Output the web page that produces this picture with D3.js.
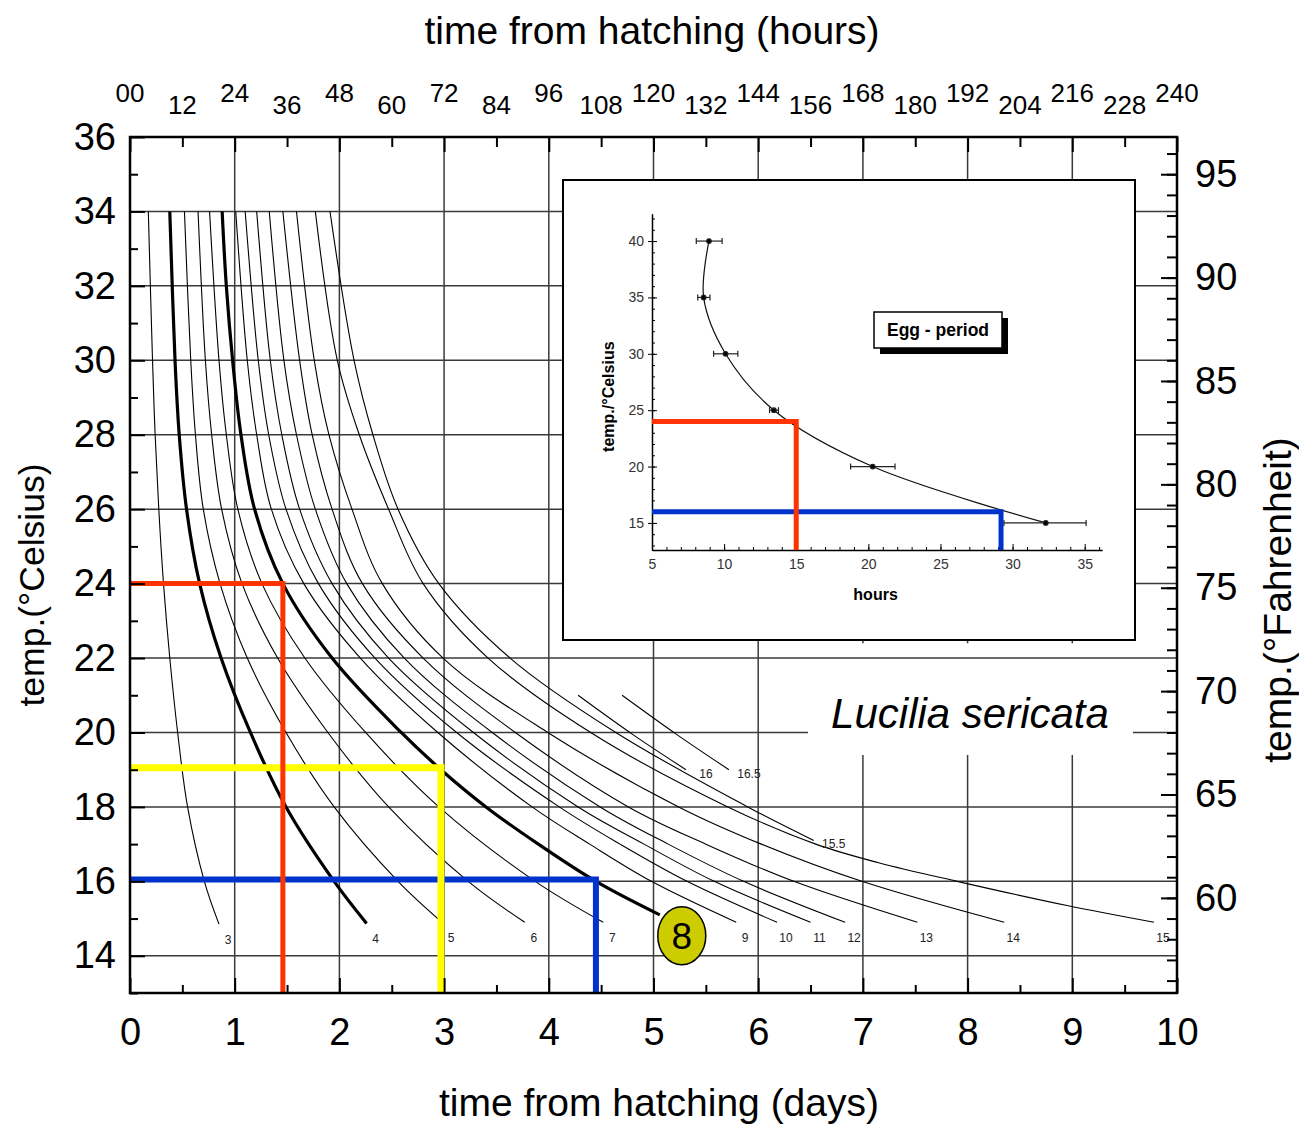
<!DOCTYPE html>
<html>
<head>
<meta charset="utf-8">
<script src="https://cdn.jsdelivr.net/npm/d3@7/dist/d3.min.js"></script>
<style>
body { margin: 0; background: #fff; }
svg text { font-family: "Liberation Sans", Arial, Helvetica, sans-serif; }
</style>
</head>
<body>
<div id="graph"></div>
<script>
// ---- axes / tick labels ----
var dayTicks = [0, 1, 2, 3, 4, 5, 6, 7, 8, 9, 10];
var hourTicks = [0, 12, 24, 36, 48, 60, 72, 84, 96, 108, 120, 132, 144, 156, 168, 180, 192, 204, 216, 228, 240];
var hourLabels = ["00", "12", "24", "36", "48", "60", "72", "84", "96", "108", "120", "132", "144", "156", "168", "180", "192", "204", "216", "228", "240"];
var celsiusTicks = [14, 16, 18, 20, 22, 24, 26, 28, 30, 32, 34, 36];
var fahrenheitTicks = [60, 65, 70, 75, 80, 85, 90, 95];

// ---- isomorphen curves: [days, temp °C] ----
var curve3 = [[0.175, 34], [0.215, 30], [0.24, 28], [0.275, 26], [0.32, 24], [0.38, 22], [0.455, 20], [0.55, 18], [0.71, 16], [0.85, 14.85]];
var curve4 = [[0.38, 34], [0.43, 30], [0.47, 28], [0.54, 26], [0.665, 24], [0.87, 22], [1.15, 20], [1.49, 18], [1.95, 16], [2.26, 14.87]];
var curve5 = [[0.52, 34], [0.58, 30], [0.625, 28], [0.70, 26], [0.86, 24], [1.12, 22], [1.49, 20], [1.95, 18], [2.56, 16], [2.98, 14.9]];
var curve6 = [[0.65, 34], [0.72, 30], [0.78, 28], [0.875, 26], [1.07, 24], [1.41, 22], [1.89, 20], [2.47, 18], [3.23, 16], [3.77, 14.9]];
var curve7 = [[0.76, 34], [0.85, 30], [0.92, 28], [1.03, 26], [1.26, 24], [1.67, 22], [2.25, 20], [2.95, 18], [3.87, 16], [4.52, 14.9]];
var curve8 = [[0.88, 34], [0.92, 32], [0.98, 30], [1.06, 28], [1.19, 26], [1.46, 24], [1.93, 22], [2.59, 20], [2.97, 19], [3.40, 18], [3.90, 17], [4.45, 16], [5.06, 15.1]];
var curve9 = [[1.01, 34], [1.12, 30], [1.21, 28], [1.35, 26], [1.66, 24], [2.20, 22], [2.94, 20], [3.84, 18], [4.39, 17], [4.98, 16], [5.79, 14.9]];
var curve10 = [[1.10, 34], [1.225, 30], [1.325, 28], [1.49, 26], [1.80, 24], [2.34, 22], [3.12, 20], [4.10, 18], [4.68, 17], [5.32, 16], [6.18, 14.9]];
var curve11 = [[1.21, 34], [1.34, 30], [1.45, 28], [1.62, 26], [1.93, 24], [2.47, 22], [3.28, 20], [4.28, 18], [4.91, 17], [5.58, 16], [6.50, 14.9]];
var curve12 = [[1.33, 34], [1.47, 30], [1.59, 28], [1.77, 26], [2.07, 24], [2.62, 22], [3.46, 20], [4.49, 18], [5.14, 17], [5.86, 16], [6.83, 14.9]];
var curve13 = [[1.46, 34], [1.62, 30], [1.74, 28], [1.93, 26], [2.22, 24], [2.80, 22], [3.68, 20], [4.76, 18], [5.50, 17], [6.34, 16], [7.52, 14.9]];
var curve14 = [[1.59, 34], [1.76, 30], [1.90, 28], [2.12, 26], [2.41, 24], [2.99, 22], [3.99, 20], [5.24, 18], [6.03, 17], [6.99, 16], [8.35, 14.9]];
var curve15 = [[1.77, 34], [1.98, 30], [2.19, 28], [2.47, 26], [2.80, 24], [3.42, 22], [4.40, 20], [5.71, 18], [6.55, 17], [7.15, 16.5], [7.90, 16], [8.95, 15.35], [9.78, 14.9]];
var curve155 = [[1.91, 34], [2.14, 30], [2.32, 28], [2.56, 26], [2.95, 24], [3.63, 22], [4.64, 20], [5.90, 18], [6.53, 17.1]];
var curve16 = [[4.28, 21.0], [4.80, 19.95], [5.31, 19.0]];
var curve165 = [[4.70, 21.0], [5.22, 19.95], [5.72, 19.0]];

var curveNames = ["3", "4", "5", "6", "7", "8", "9", "10", "11", "12", "13", "14", "15", "15.5", "16", "16.5"];
var curveData = [curve3, curve4, curve5, curve6, curve7, curve8, curve9, curve10, curve11, curve12, curve13, curve14, curve15, curve155, curve16, curve165];
var boldCurves = ["4", "8"];

// reading lines on the main chart (blue, yellow, red)
var markDays = [4.45, 2.97, 1.46];
var markTemps = [16.05, 19.05, 24];

// ---- inset: egg period ----
var eggTemps = [40, 35, 30, 25, 20, 15];
var eggHours = [8.95, 8.58, 10.1, 13.45, 20.3, 32.3];
var eggLow = [8.07, 8.17, 9.27, 13.15, 18.77, 29.4];
var eggHigh = [9.86, 9.02, 10.95, 13.77, 21.85, 35.1];
var insetHourTicks = [5, 10, 15, 20, 25, 30, 35];
var insetTempTicks = [15, 20, 25, 30, 35, 40];
// reading lines on the inset (blue, red)
var insetMarkHours = [29.2, 15];
var insetMarkTemps = [16, 24];

var markColors = ["#0033cc", "#ffff00", "#ff3300"];
var markWidths = [6, 7, 5];
var insetMarkColors = ["#0033cc", "#ff3300"];

var font = '"Liberation Sans", Arial, sans-serif';

var svg = d3.select("div#graph")
    .append("svg")
    .attr("width", 1299)
    .attr("height", 1126);

var x = d3.scaleLinear().domain([0, 10]).range([130, 1177]);
var xh = d3.scaleLinear().domain([0, 240]).range([130, 1177]);
var y = d3.scaleLinear().domain([13, 36]).range([993, 137]);
var yf = d3.scaleLinear().domain([13 * 1.8 + 32, 36 * 1.8 + 32]).range([993, 137]);

// grid
var grid = svg.append("g").attr("stroke", "#3a3a3a").attr("stroke-width", 1.5);
grid.selectAll("line.hgrid")
    .data(celsiusTicks.filter(function(d) {return d < 36}))
    .enter().append("line")
    .attr("class", "hgrid")
    .attr("x1", x(0)).attr("x2", x(10))
    .attr("y1", function(d) {return y(d)})
    .attr("y2", function(d) {return y(d)});

var vgrid = [];
dayTicks.forEach(function(d) {
    if (d == 0 || d == 10) return;
    if (d >= 7) {
	vgrid.push([d, 36, 22.4]);
	vgrid.push([d, 19.55, 13]);
    } else {
	vgrid.push([d, 36, 13]);
    }
});
grid.selectAll("line.vgrid")
    .data(vgrid)
    .enter().append("line")
    .attr("class", "vgrid")
    .attr("x1", function(d) {return x(d[0])})
    .attr("x2", function(d) {return x(d[0])})
    .attr("y1", function(d) {return y(d[1])})
    .attr("y2", function(d) {return y(d[2])});

// isomorphen curves
var line = d3.line()
    .x(function(d) {return x(d[0])})
    .y(function(d) {return y(d[1])})
    .curve(d3.curveCatmullRom.alpha(0.5));

svg.append("g")
    .attr("fill", "none")
    .attr("stroke", "#000")
    .selectAll("path")
    .data(curveData)
    .enter().append("path")
    .attr("d", function(d) {return line(d)})
    .attr("stroke-width", function(d, i) {return boldCurves.indexOf(curveNames[i]) >= 0 ? 3.2 : 1.1});

// curve labels
var labels = svg.append("g").attr("font-size", 12).attr("fill", "#222").attr("text-anchor", "middle");
curveData.forEach(function(pts, i) {
    var name = curveNames[i];
    var end = pts[pts.length - 1];
    var ex = x(end[0]), ey = y(end[1]);
    if (name == "8") {
	labels.append("ellipse")
	    .attr("cx", ex + 22).attr("cy", ey + 21)
	    .attr("rx", 24).attr("ry", 29)
	    .attr("fill", "#cccc00").attr("stroke", "#000").attr("stroke-width", 1.5);
	labels.append("text")
	    .attr("x", ex + 22).attr("y", ey + 34)
	    .attr("font-size", 37).attr("fill", "#000")
	    .text(name);
    } else if (end[1] > 16.5) {
	labels.append("text").attr("x", ex + 20).attr("y", ey + 8).text(name);
    } else {
	labels.append("text").attr("x", ex + 9).attr("y", ey + 20).text(name);
    }
});

// inset
var ix = d3.scaleLinear().domain([5, 36.2]).range([652, 1102]);
var iy = d3.scaleLinear().domain([12.6, 42.4]).range([550, 214]);
var inset = svg.append("g");
inset.append("rect")
    .attr("x", 563).attr("y", 180).attr("width", 572).attr("height", 460)
    .attr("fill", "#fff").attr("stroke", "#000").attr("stroke-width", 2);

inset.append("g")
    .attr("transform", "translate(0," + iy(12.6) + ")")
    .call(d3.axisBottom(ix).tickValues(d3.range(6, 37)).tickSize(-3).tickSizeOuter(0).tickFormat(""));
inset.append("g")
    .attr("transform", "translate(0," + iy(12.6) + ")")
    .call(d3.axisBottom(ix).tickValues(insetHourTicks).tickSize(-6).tickSizeOuter(0).tickPadding(9))
    .call(function(g) {
	g.selectAll("text").attr("font-size", 14).attr("fill", "#333").attr("font-family", font);
	g.select(".domain").attr("stroke-width", 1.5);
    });
inset.append("g")
    .attr("transform", "translate(" + ix(5) + ",0)")
    .call(d3.axisLeft(iy).tickValues(d3.range(13, 43)).tickSize(-3).tickSizeOuter(0).tickFormat(""));
inset.append("g")
    .attr("transform", "translate(" + ix(5) + ",0)")
    .call(d3.axisLeft(iy).tickValues(insetTempTicks).tickSize(-5).tickSizeOuter(0).tickFormat(""));
inset.append("g")
    .attr("transform", "translate(" + ix(5) + ",0)")
    .call(d3.axisLeft(iy).tickValues(insetTempTicks).tickSize(4).tickSizeOuter(0).tickPadding(4))
    .call(function(g) {
	g.selectAll("text").attr("font-size", 14).attr("fill", "#333").attr("font-family", font);
	g.select(".domain").attr("stroke-width", 1.5);
    });

inset.append("text")
    .attr("x", ix(20.5)).attr("y", 600)
    .attr("text-anchor", "middle").attr("font-size", 16).attr("font-weight", "bold")
    .text("hours");
inset.append("text")
    .attr("transform", "translate(614," + iy(26.2) + ") rotate(-90)")
    .attr("text-anchor", "middle").attr("font-size", 16).attr("font-weight", "bold")
    .text("temp./°Celsius");

// egg curve + error bars
var eggPts = eggTemps.map(function(t, i) {return [eggHours[i], t]});
inset.append("path")
    .attr("fill", "none").attr("stroke", "#111").attr("stroke-width", 1.2)
    .attr("d", d3.line()
	  .x(function(d) {return ix(d[0])})
	  .y(function(d) {return iy(d[1])})
	  .curve(d3.curveCatmullRom.alpha(0.5))(eggPts));
var bars = inset.append("g").attr("stroke", "#222").attr("stroke-width", 1.2);
eggTemps.forEach(function(t, i) {
    var yy = iy(t);
    bars.append("line").attr("x1", ix(eggLow[i])).attr("x2", ix(eggHigh[i])).attr("y1", yy).attr("y2", yy);
    bars.append("line").attr("x1", ix(eggLow[i])).attr("x2", ix(eggLow[i])).attr("y1", yy - 3).attr("y2", yy + 3);
    bars.append("line").attr("x1", ix(eggHigh[i])).attr("x2", ix(eggHigh[i])).attr("y1", yy - 3).attr("y2", yy + 3);
    bars.append("circle").attr("cx", ix(eggHours[i])).attr("cy", yy).attr("r", 2.3).attr("fill", "#000");
});

// legend box
inset.append("rect").attr("x", 880).attr("y", 318).attr("width", 128).attr("height", 36).attr("fill", "#000");
inset.append("rect").attr("x", 874).attr("y", 312).attr("width", 128).attr("height", 36)
    .attr("fill", "#fff").attr("stroke", "#000").attr("stroke-width", 1.5);
inset.append("text")
    .attr("x", 938).attr("y", 336)
    .attr("text-anchor", "middle").attr("font-size", 17.5).attr("font-weight", "bold")
    .text("Egg - period");

// inset reading lines
insetMarkHours.forEach(function(h, i) {
    inset.append("path")
	.attr("fill", "none").attr("stroke", insetMarkColors[i]).attr("stroke-width", 5)
	.attr("d", "M" + ix(5) + "," + iy(insetMarkTemps[i]) + "H" + ix(h) + "V" + iy(12.6));
});

// species label
svg.append("rect")
    .attr("x", 808).attr("y", 688).attr("width", 325).attr("height", 67)
    .attr("fill", "#fff");
svg.append("text")
    .attr("x", 970).attr("y", 728)
    .attr("text-anchor", "middle").attr("font-size", 42).attr("font-style", "italic")
    .text("Lucilia sericata");

// main reading lines
markDays.forEach(function(d, i) {
    svg.append("path")
	.attr("fill", "none").attr("stroke", markColors[i]).attr("stroke-width", markWidths[i])
	.attr("d", "M" + x(0) + "," + y(markTemps[i]) + "H" + x(d) + "V" + y(13));
});

// axes
function styleAxis(g, size) {
    g.select(".domain").remove();
    g.selectAll(".tick line").attr("stroke-width", 2);
    g.selectAll("text").attr("font-size", size).attr("font-family", font).attr("fill", "#000");
}
svg.append("g").attr("transform", "translate(130,0)")
    .call(d3.axisLeft(y).tickValues(d3.range(13, 36, 2)).tickSize(-8).tickFormat(""))
    .call(styleAxis, 38);
svg.append("g").attr("transform", "translate(130,0)")
    .call(d3.axisLeft(y).tickValues(celsiusTicks).tickSize(-15).tickPadding(14))
    .call(styleAxis, 38);
svg.append("g").attr("transform", "translate(0,993)")
    .call(d3.axisBottom(x).tickValues(d3.range(0.5, 10, 1)).tickSize(-8).tickFormat(""))
    .call(styleAxis, 38);
svg.append("g").attr("transform", "translate(0,993)")
    .call(d3.axisBottom(x).tickValues(dayTicks).tickSize(-15).tickPadding(25))
    .call(styleAxis, 38);
svg.append("g").attr("transform", "translate(0,137)")
    .call(d3.axisTop(xh).tickValues(hourTicks.filter(function(h) {return h % 24 != 0})).tickSize(-10).tickFormat(""))
    .call(styleAxis, 26);
svg.append("g").attr("transform", "translate(0,137)")
    .call(d3.axisTop(xh).tickValues(hourTicks.filter(function(h) {return h % 24 == 0})).tickSize(-15).tickFormat(""))
    .call(styleAxis, 26);
svg.append("g").attr("transform", "translate(1177,0)")
    .call(d3.axisRight(yf).tickValues(d3.range(56, 97)).tickSize(-10).tickFormat(""))
    .call(styleAxis, 38);
svg.append("g").attr("transform", "translate(1177,0)")
    .call(d3.axisRight(yf).tickValues(fahrenheitTicks).tickSize(-16).tickPadding(18))
    .call(styleAxis, 38);

// hour labels, staggered
svg.append("g")
    .attr("font-size", 26).attr("text-anchor", "middle")
    .selectAll("text")
    .data(hourTicks)
    .enter().append("text")
    .attr("x", function(d) {return xh(d)})
    .attr("y", function(d) {return d % 24 == 0 ? 102 : 114})
    .text(function(d, i) {return hourLabels[i]});

// frame
svg.append("rect")
    .attr("x", x(0)).attr("y", y(36))
    .attr("width", x(10) - x(0)).attr("height", y(13) - y(36))
    .attr("fill", "none").attr("stroke", "#000").attr("stroke-width", 2.5);

// titles
svg.append("text")
    .attr("x", 652).attr("y", 44)
    .attr("text-anchor", "middle").attr("font-size", 39)
    .text("time from hatching (hours)");
svg.append("text")
    .attr("x", 659).attr("y", 1116)
    .attr("text-anchor", "middle").attr("font-size", 39)
    .text("time from hatching (days)");
svg.append("text")
    .attr("transform", "translate(44,585) rotate(-90)")
    .attr("text-anchor", "middle").attr("font-size", 35.5)
    .text("temp.(°Celsius)");
svg.append("text")
    .attr("transform", "translate(1291,600) rotate(-90)")
    .attr("text-anchor", "middle").attr("font-size", 39)
    .text("temp.(°Fahrenheit)");
</script>
</body>
</html>
